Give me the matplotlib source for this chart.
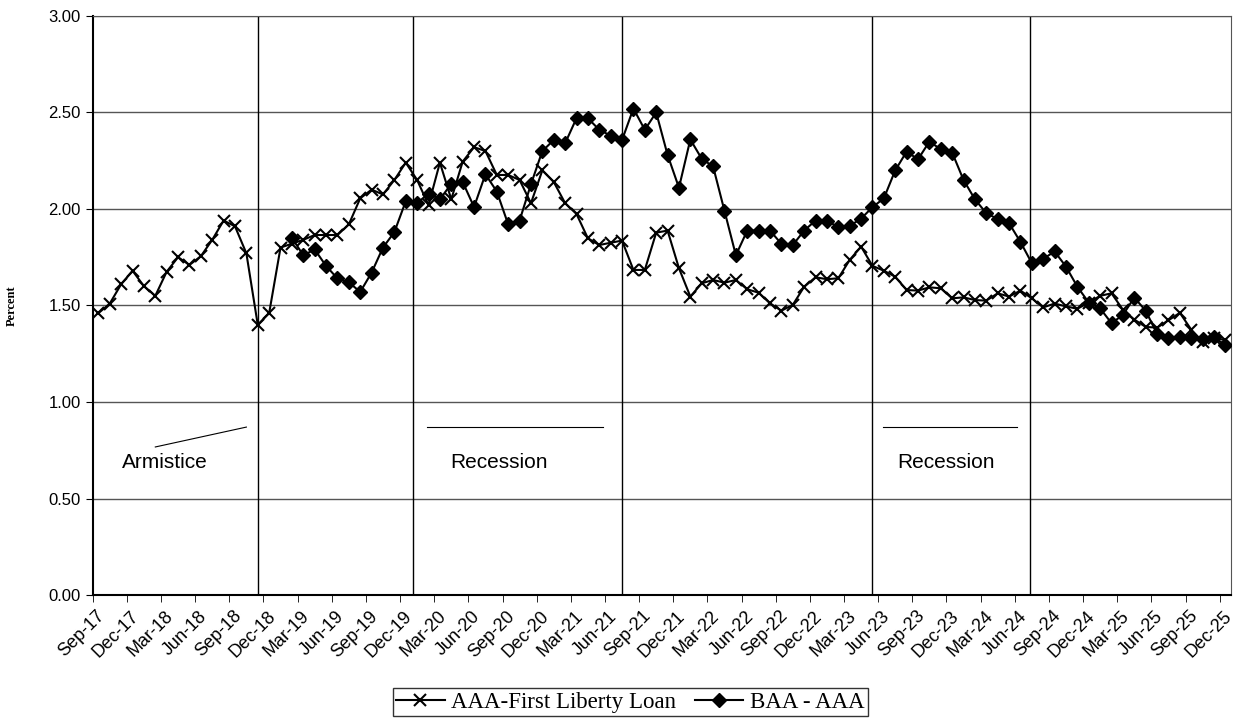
import numpy as np
import matplotlib
matplotlib.use('Agg')
import matplotlib.pyplot as plt

# tick labels, one every 3 months starting Sep-17
tick_labels = ['Sep-17', 'Dec-17', 'Mar-18', 'Jun-18', 'Sep-18', 'Dec-18',
               'Mar-19', 'Jun-19', 'Sep-19', 'Dec-19', 'Mar-20', 'Jun-20',
               'Sep-20', 'Dec-20', 'Mar-21', 'Jun-21', 'Sep-21', 'Dec-21',
               'Mar-22', 'Jun-22', 'Sep-22', 'Dec-22', 'Mar-23', 'Jun-23',
               'Sep-23', 'Dec-23', 'Mar-24', 'Jun-24', 'Sep-24', 'Dec-24',
               'Mar-25', 'Jun-25', 'Sep-25', 'Dec-25']

# monthly, Sep-17 .. Dec-25
aaa_liberty = [1.46, 1.51, 1.61, 1.68, 1.60, 1.55, 1.675, 1.75, 1.71, 1.755,
               1.84, 1.94, 1.91, 1.77, 1.40, 1.46, 1.80, 1.82, 1.84, 1.865,
               1.865, 1.865, 1.92, 2.055, 2.10, 2.075, 2.15, 2.24, 2.15, 2.02,
               2.24, 2.05, 2.245, 2.32, 2.30, 2.176, 2.176, 2.15, 2.03, 2.20,
               2.14, 2.03, 1.974, 1.848, 1.813, 1.825, 1.836, 1.684, 1.684, 1.877,
               1.888, 1.693, 1.546, 1.615, 1.632, 1.618, 1.632, 1.584, 1.566, 1.511,
               1.473, 1.503, 1.597, 1.646, 1.636, 1.641, 1.736, 1.805, 1.705, 1.68,
               1.649, 1.58, 1.577, 1.594, 1.589, 1.537, 1.542, 1.528, 1.525, 1.563,
               1.546, 1.577, 1.537, 1.49, 1.51, 1.495, 1.483, 1.515, 1.55, 1.563,
               1.478, 1.427, 1.389, 1.385, 1.423, 1.462, 1.375, 1.312, 1.333, 1.32]

# monthly, Feb-19 .. Dec-25
baa_start = 17
baa_aaa = [1.85, 1.76, 1.79, 1.705, 1.64, 1.62, 1.57, 1.67, 1.80, 1.88,
           2.04, 2.03, 2.08, 2.05, 2.13, 2.14, 2.01, 2.18, 2.09, 1.92,
           1.94, 2.128, 2.30, 2.357, 2.34, 2.47, 2.47, 2.41, 2.38, 2.357,
           2.52, 2.41, 2.50, 2.28, 2.11, 2.36, 2.26, 2.22, 1.99, 1.76,
           1.888, 1.888, 1.888, 1.819, 1.813, 1.888, 1.94, 1.94, 1.905, 1.912,
           1.95, 2.009, 2.055, 2.20, 2.297, 2.257, 2.349, 2.309, 2.292, 2.15,
           2.05, 1.978, 1.948, 1.926, 1.829, 1.719, 1.741, 1.78, 1.701, 1.597,
           1.515, 1.485, 1.408, 1.451, 1.541, 1.473, 1.352, 1.33, 1.338, 1.33,
           1.325, 1.335, 1.295]

# armistice and recession start/end markers (month index)
event_lines = [14.0, 27.6, 46.0, 68.0, 81.8]

fig = plt.figure(figsize=(12.36, 7.23), dpi=100)
ax = fig.add_axes([0.075, 0.177, 0.921, 0.801])

x1 = np.arange(len(aaa_liberty))
x2 = np.arange(baa_start, baa_start + len(baa_aaa))

ax.plot(x1, aaa_liberty, color='black', lw=1.5, marker='x', ms=9, mew=1.5,
        label='AAA-First Liberty Loan', zorder=3)
ax.plot(x2, baa_aaa, color='black', lw=1.5, marker='D', ms=7,
        label='BAA - AAA', zorder=3)

ax.set_xlim(-0.5, len(aaa_liberty) - 0.5)
ax.set_ylim(0, 3)

yt = np.arange(0, 3.01, 0.5)
ax.set_yticks(yt)
ax.set_yticklabels(['%.2f' % v for v in yt], fontsize=12, family='Liberation Sans')
ax.yaxis.grid(True, color='#555555', lw=1)
ax.set_axisbelow(True)

ax.set_xticks(np.arange(-0.2, len(aaa_liberty), 3))
ax.set_xticklabels(tick_labels, rotation=45, ha='right', rotation_mode='anchor',
                   fontsize=13, family='Liberation Sans')
ax.set_xticks(np.arange(-0.5, len(aaa_liberty), 3), minor=True)
ax.tick_params(axis='x', which='major', length=0, pad=9)
ax.tick_params(axis='x', which='minor', length=5, direction='out', color='black')
ax.tick_params(axis='y', length=5, direction='out', color='black')

for xv in event_lines:
    ax.axvline(xv, color='black', lw=1, zorder=1)

for sp in ['left', 'bottom']:
    ax.spines[sp].set_color('black')
    ax.spines[sp].set_linewidth(1.5)
for sp in ['top', 'right']:
    ax.spines[sp].set_color('#555555')

# annotations
ax.plot([5.0, 13.0], [0.767, 0.870], color='black', lw=0.8)
ax.text(2.1, 0.684, 'Armistice', fontsize=15, family='Liberation Sans', va='center')
ax.plot([28.9, 44.3], [0.87, 0.87], color='black', lw=0.8)
ax.text(30.9, 0.689, 'Recession', fontsize=15, family='Liberation Sans', va='center')
ax.plot([68.9, 80.7], [0.87, 0.87], color='black', lw=0.8)
ax.text(70.2, 0.689, 'Recession', fontsize=15, family='Liberation Sans', va='center')

ax.set_ylabel('Percent', fontsize=9, fontweight='bold', family='Liberation Serif', labelpad=22)

leg = fig.legend(loc='lower center', bbox_to_anchor=(0.51, 0.0097), ncol=2,
                 frameon=True, fancybox=False, edgecolor='black',
                 prop={'family': 'Liberation Serif', 'size': 16.5},
                 handlelength=2.1, columnspacing=0.8, handletextpad=0.3,
                 borderpad=0.15, borderaxespad=0)
leg.get_frame().set_linewidth(1.0)

fig.savefig('out.png', dpi=100)
